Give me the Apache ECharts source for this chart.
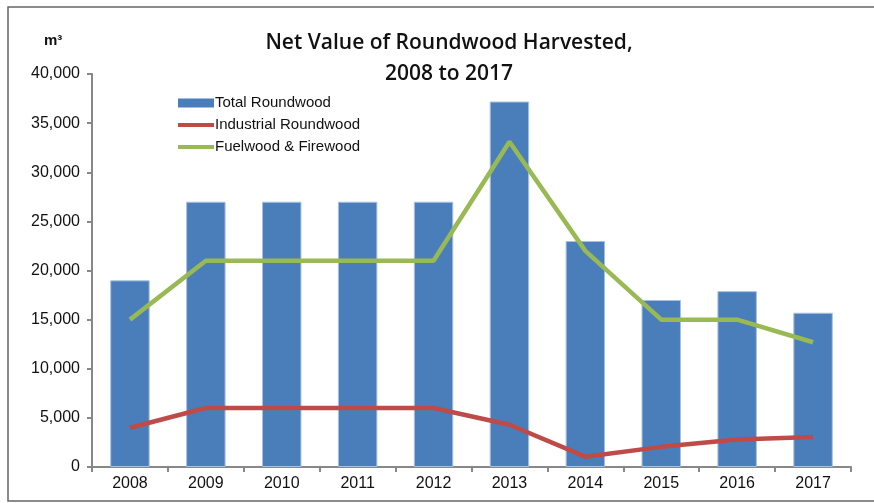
<!DOCTYPE html>
<html><head><meta charset="utf-8">
<script src="https://cdn.jsdelivr.net/npm/echarts@6/dist/echarts.min.js"></script>
<style>html,body{margin:0;padding:0;background:#fff}#c{width:874px;height:503px}</style>
</head><body><div id="c"></div>
<script>
var years = ['2008','2009','2010','2011','2012','2013','2014','2015','2016','2017'];
var totalRoundwood = [19000,27000,27000,27000,27000,37200,23000,17000,17900,15700];
var industrialRoundwood = [4000,6000,6000,6000,6000,4300,1050,2050,2800,3050];
var fuelwood = [15000,21000,21000,21000,21000,33100,22000,15000,15000,12700];
var yTicks = [0,5000,10000,15000,20000,25000,30000,35000,40000];

var lineIcon = 'path://M0,0L36,0L36,4L0,4Z';
var chart = echarts.init(document.getElementById('c'), null, {renderer:'canvas'});
chart.setOption({
  animation:false,
  title:{
    text:'Net Value of Roundwood Harvested,\n2008 to 2017',
    left:444, top:23, textAlign:'center',
    textStyle:{fontFamily:'Open Sans',fontWeight:600,fontSize:21,lineHeight:31,color:'#111'}
  },
  graphic:[
    {type:'rect',shape:{x:8,y:7,width:880,height:494},style:{fill:'none',stroke:'#666',lineWidth:1.5},silent:true},
    {type:'text',left:44,top:33,style:{text:'m³',font:'bold 15px "Liberation Sans", Arial',fill:'#111'}}
  ],
  legend:{
    orient:'vertical', left:173, top:89, itemGap:4, itemWidth:36, itemHeight:9,
    textStyle:{fontFamily:'Liberation Sans',fontSize:15,color:'#111',padding:[0,0,0,-4],lineHeight:18},
    data:[
      {name:'Total Roundwood',icon:'rect',itemStyle:{borderWidth:0}},
      {name:'Industrial Roundwood',icon:lineIcon},
      {name:'Fuelwood & Firewood',icon:lineIcon}
    ]
  },
  grid:{left:92,right:23,top:74,bottom:36},
  xAxis:{
    type:'category', data:years,
    axisLine:{lineStyle:{color:'#888',width:2}},
    axisTick:{show:true,alignWithLabel:false,length:5,lineStyle:{color:'#888',width:2}},
    axisLabel:{fontFamily:'Liberation Sans',fontSize:16,color:'#111',margin:9}
  },
  yAxis:{
    type:'value', min:yTicks[0], max:yTicks[yTicks.length-1], interval:5000,
    axisLine:{show:true,lineStyle:{color:'#888',width:2}},
    axisTick:{show:true,inside:false,length:5,lineStyle:{color:'#888',width:2}},
    splitLine:{show:false},
    axisLabel:{fontFamily:'Liberation Sans',fontSize:16,color:'#111',margin:12,
      formatter:function(v){return v.toLocaleString('en-US');}}
  },
  series:[
    {name:'Total Roundwood',type:'bar',data:totalRoundwood,barWidth:'52%',
      itemStyle:{color:'#4a7ebb',borderColor:'#a9c1e0',borderWidth:1}},
    {name:'Industrial Roundwood',type:'line',data:industrialRoundwood,symbol:'none',
      lineStyle:{color:'#be4b48',width:4.5},itemStyle:{color:'#be4b48'}},
    {name:'Fuelwood & Firewood',type:'line',data:fuelwood,symbol:'none',
      lineStyle:{color:'#98b954',width:4.5},itemStyle:{color:'#98b954'}}
  ]
});
</script></body></html>
